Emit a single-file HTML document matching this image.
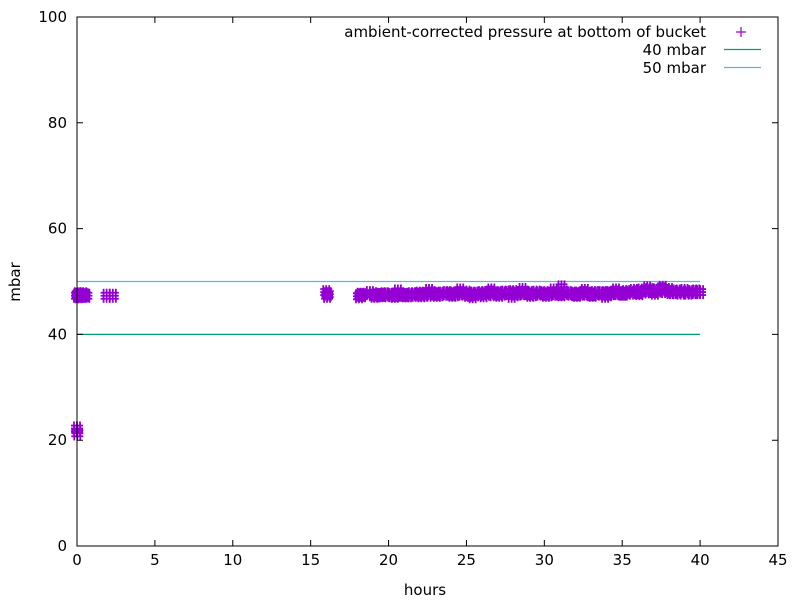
<!DOCTYPE html>
<html><head><meta charset="utf-8"><style>
body{margin:0;background:#fff}
svg{display:block;font-family:"DejaVu Sans","Liberation Sans",sans-serif;font-size:15px}
</style></head><body>
<svg id="chart" width="796" height="603" viewBox="0 0 796 603">
<g id="grid"></g>
<g id="series"></g>
<g id="axes"></g>
<g id="legend">
 <text x="706" y="37" text-anchor="end">ambient-corrected pressure at bottom of bucket</text>
 <path d="M736,32h10M741,27v10" stroke="#9400d3" stroke-width="1.2"/>
 <text x="706" y="55" text-anchor="end">40 mbar</text>
 <line x1="724" y1="49.5" x2="761" y2="49.5" stroke="#009e73" stroke-width="1.2"/>
 <text x="706" y="73" text-anchor="end">50 mbar</text>
 <line x1="724" y1="67.5" x2="761" y2="67.5" stroke="#56b4e9" stroke-width="1.2"/>
</g>
<text x="425" y="595" text-anchor="middle">hours</text>
<text transform="translate(20,282) rotate(-90)" text-anchor="middle">mbar</text>
</svg>
<script>
const xTicks=[0,5,10,15,20,25,30,35,40,45];
const yTicks=[0,20,40,60,80,100];
const refLevels=[40,50];
const refColors=["#009e73","#56b4e9"];
const refEnd=40;
const hours=[0,0.05,0.1,0.15,0.2,0.3,0.4,0.5,0.6,0,0.02,1.9,2.3,16,16.05,16.1,18.1,18.2,18.3,
18.8,19.0,19.25,19.5,19.75,20.0,20.25,20.5,20.75,21.0,21.25,21.5,21.75,22.0,22.25,22.5,22.75,23.0,23.25,23.5,23.75,24.0,24.25,24.5,24.75,25.0,25.25,25.5,25.75,26.0,26.25,26.5,26.75,27.0,27.25,27.5,27.75,28.0,28.25,28.5,28.75,29.0,29.25,29.5,29.75,30.0,30.25,30.5,30.75,31.0,31.25,31.5,31.75,32.0,32.25,32.5,32.75,33.0,33.25,33.5,33.75,34.0,34.25,34.5,34.75,35.0,35.25,35.5,35.75,36.0,36.25,36.5,36.75,37.0,37.25,37.5,37.75,38.0,38.25,38.5,38.75,39.0,39.25,39.5,39.75,40.0,
19.1,19.6,20.4,21.1,22.1,23.1,24.1,25.1,26.1,27.1,28.1,29.1,30.1,31.1,32.1,33.1,34.1,35.1,36.1,37.1,38.1,36.6,37.6,
20.6,22.6,24.6,26.6,28.6,30.6,32.6,34.6,31.1,25.4,27.9,33.9];
const pressure=[47.3,47.6,47.2,47.4,47.5,47.3,47.6,47.4,47.3,22.2,21.3,47.3,47.3,48.0,47.3,47.6,47.2,47.5,47.4,
47.8,47.6,47.4,47.5,47.6,47.5,47.4,47.5,47.6,47.5,47.4,47.6,47.5,47.7,47.6,47.5,47.8,47.7,47.6,47.7,47.8,47.7,47.6,47.8,47.7,47.9,47.6,47.7,47.6,47.8,47.7,47.9,47.6,47.8,47.7,47.9,47.8,48.0,47.7,47.8,47.9,47.8,47.6,47.9,47.7,47.8,47.6,47.7,47.8,47.7,47.9,47.8,47.7,47.6,47.7,47.8,47.7,47.6,47.8,47.7,47.8,47.7,47.8,47.9,47.8,47.7,48.0,47.9,48.2,48.0,48.3,48.1,48.4,48.2,48.3,48.5,48.2,48.4,48.0,48.1,47.9,48.2,47.9,48.0,48.1,48.0,
47.3,47.4,47.3,47.4,47.4,47.5,47.5,47.5,47.4,47.5,47.6,47.5,47.5,47.6,47.5,47.5,47.6,47.7,47.8,47.9,48.0,48.7,48.8,
48.1,48.2,48.3,48.3,48.4,48.3,48.2,48.3,48.9,47.2,47.3,47.3];
const L=77,R=778,T=17,B=546,xMax=45,yMax=100;
const X=v=>L+(R-L)*v/xMax, Y=v=>B-(B-T)*v/yMax;
const NS="http://www.w3.org/2000/svg";
function mk(tag,attrs,parent){const e=document.createElementNS(NS,tag);for(const k in attrs)e.setAttribute(k,attrs[k]);parent.appendChild(e);return e;}
const axes=document.getElementById('axes'),series=document.getElementById('series');
xTicks.forEach(t=>{const x=X(t);
 const p=mk('path',{d:`M${x},${B}v-6M${x},${T}v6`,stroke:'#000','stroke-width':1},axes);
 
 
 const tx=mk('text',{x:x,y:B+19,'text-anchor':'middle'},axes);tx.textContent=t;
 
 });
yTicks.forEach(t=>{const y=Y(t);
 const p=mk('path',{d:`M${L},${y}h6M${R},${y}h-6`,stroke:'#000','stroke-width':1},axes);
 
 
 const tx=mk('text',{x:L-10,y:y+5,'text-anchor':'end'},axes);tx.textContent=t;
 
 });
const box=mk('rect',{x:L,y:T,width:R-L,height:B-T,fill:'none',stroke:'#000','stroke-width':1},axes);


refLevels.forEach((v,i)=>{const ln=mk('line',{x1:X(0),x2:X(refEnd),y1:Y(v),y2:Y(v),stroke:refColors[i],'stroke-width':1.2},series);
 
 });
hours.forEach((h,i)=>{const x=X(h),y=Y(pressure[i]);
 const p=mk('path',{d:`M${x-6},${y}h12M${x},${y-7}v14M${x-6},${y-3}h12M${x-6},${y+3}h12M${x-3},${y-7}v14M${x+3},${y-7}v14`,stroke:'#9400d3','stroke-width':1.8},series);
 
 });
</script>
</body></html>
